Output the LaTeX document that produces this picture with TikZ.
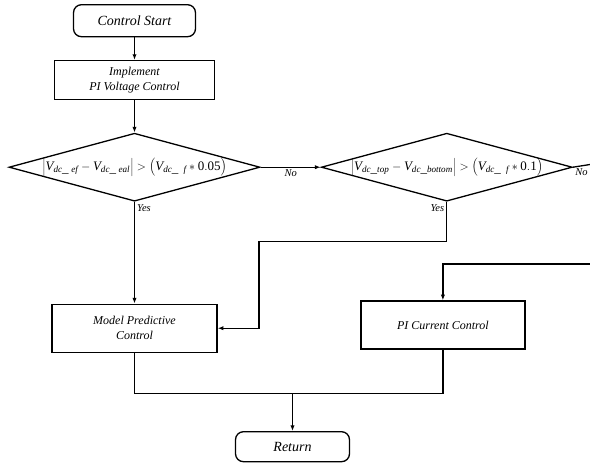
\documentclass[tikz,border=0pt]{standalone}
\usepackage{fontspec}
\setmainfont{Liberation Serif}
\usetikzlibrary{arrows.meta,positioning,shapes.geometric}
\newcommand{\Vdc}[1]{\mathit{V}_{\mathit{#1}}}

\begin{document}
\begin{tikzpicture}[x=1pt,y=-1pt,
    term/.style={draw,rounded corners=8pt,minimum height=30pt,
      align=center,font=\fontsize{14}{16}\selectfont\itshape,line width=1.3pt},
    box/.style={draw,minimum width=164pt,minimum height=48pt,
      align=center,font=\fontsize{12}{15}\selectfont\itshape,line width=1.3pt},
    cond/.style={draw,diamond,aspect=3.7,inner sep=0pt,minimum width=251pt,
      minimum height=68pt,font=\fontsize{13}{15}\selectfont,line width=1.3pt},
    lbl/.style={font=\fontsize{10.5}{12}\selectfont\itshape,inner sep=2pt},
    arr/.style={-{Latex[length=2mm]},line width=1.3pt},
    wire/.style={line width=1.3pt}
  ]
    \useasboundingbox (0,0) rectangle (590,464);
    \node[term,minimum width=122pt,minimum height=32pt] (start) at (134.5,20.7) {Control Start};
    \node[box,minimum width=160pt,minimum height=39pt,below=22.6pt of start] (volt)
      {Implement\\PI Voltage Control};
    \node[cond,below=32.3pt of volt] (chk1)
      {\makebox[0pt]{$\Big|\Vdc{dc\_\;ef}-\Vdc{dc\_\;eal}\Big|>\Big(\Vdc{dc\_\;\;f}*\mathrm{0.05}\Big)$}};
    \node[cond,right=60pt of chk1] (chk2)
      {\makebox[0pt]{$\Big|\Vdc{dc\_top}-\Vdc{dc\_bottom}\Big|>\Big(\Vdc{dc\_\;\;f}*\mathrm{0.1}\Big)$}};
    \node[box,minimum width=165pt,below=101.7pt of chk1] (mpc) {Model Predictive\\Control};
    \node[box] (picur) at (442.9,325) {PI Current Control};
    \node[term,minimum width=114pt] (ret) at (292.5,446.7) {Return};
    \coordinate (out) at (590,164.5);
    \coordinate (in) at (590,264);
    \coordinate (jog) at (259,241.7);
    \coordinate (merge) at (292.5,393.3);
    \draw[arr] (start)--(volt);
    \draw[arr] (volt)--(chk1);
    \draw[arr] (chk1.east)--node[lbl,below]{No}(chk2.west);
    \draw[wire] (chk2.east)--node[lbl,below,pos=0.5]{No}(out);
    \draw[arr] (chk1.south)--node[lbl,below right,pos=0]{Yes}(mpc.north);
    \draw[arr] (chk2.south) node[lbl,below left]{Yes} |- (jog) |- (mpc.east);
    \draw[arr] (in) -| (picur.north);
    \draw[wire] (mpc.south) |- (merge) -| (picur.south);
    \draw[arr] (merge)--(ret);
  \end{tikzpicture}
\end{document}
